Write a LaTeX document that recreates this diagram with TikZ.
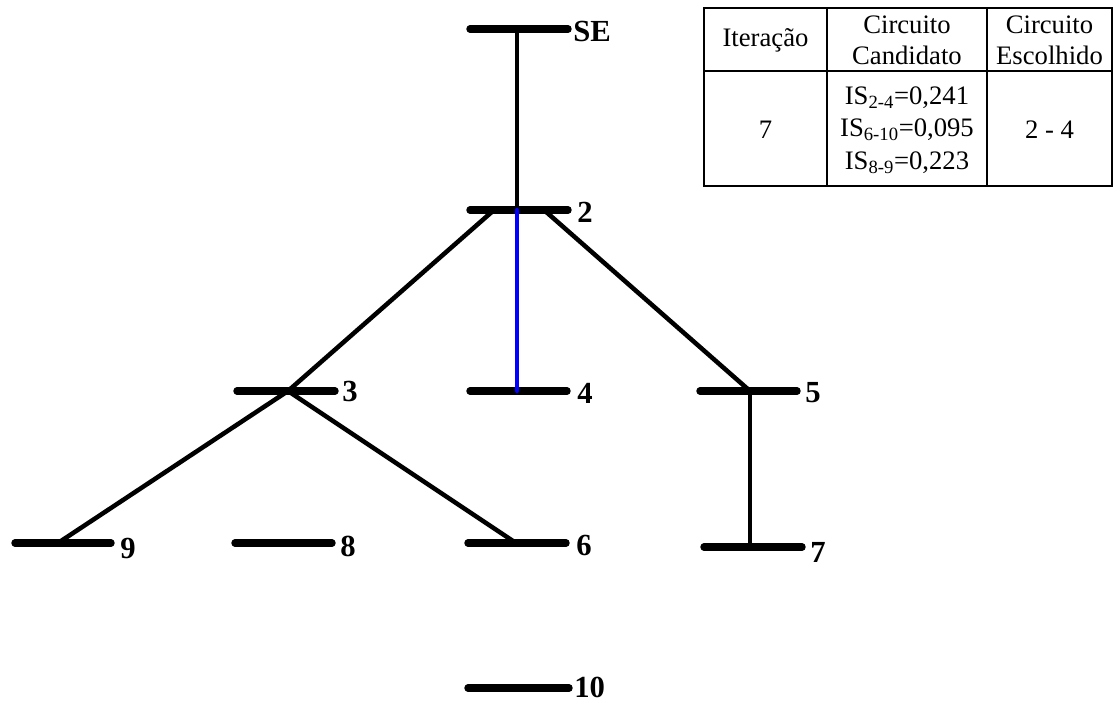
\documentclass[tikz,border=0pt]{standalone}
\usepackage{fontspec}
\setmainfont{Liberation Serif}
\begin{document}
\begin{tikzpicture}[x=0.75pt,y=-0.75pt,
  bus/.style={line width=5.6pt,line cap=round},
  link/.style={line width=3.4pt},
  blink/.style={line width=3.2pt,blue,line cap=round},
  lbl/.style={anchor=west,inner sep=0pt,font=\bfseries\fontsize{23}{24}\selectfont},
  cell/.style={align=center,inner sep=0pt,font=\fontsize{20}{23}\selectfont}]
\useasboundingbox (0,0) rectangle (1115,704);
% bus coordinates
\coordinate (SEl) at (470,29);  \coordinate (SEr) at (568,29);  \coordinate (SEt) at (517,29);
\coordinate (B2l) at (470,210); \coordinate (B2r) at (568,210); \coordinate (B2t) at (517,210);
\coordinate (B2a) at (494,210); \coordinate (B2b) at (544,210);
\coordinate (B3l) at (237,391); \coordinate (B3r) at (335,391); \coordinate (B3t) at (288,391);
\coordinate (B4l) at (470,391); \coordinate (B4r) at (567,391); \coordinate (B4t) at (517,391);
\coordinate (B5l) at (700,391); \coordinate (B5r) at (797,391); \coordinate (B5t) at (750,391);
\coordinate (B9l) at (15,543);  \coordinate (B9r) at (111,543); \coordinate (B9t) at (58,543);
\coordinate (B8l) at (235,543); \coordinate (B8r) at (332,543);
\coordinate (B6l) at (468,543); \coordinate (B6r) at (566,543); \coordinate (B6t) at (516,543);
\coordinate (B7l) at (704,547); \coordinate (B7r) at (802,547); \coordinate (B7t) at (750,547);
\coordinate (B10l) at (468,688); \coordinate (B10r) at (569,688);
% connectors
\draw[link] (SEt) -- (B2t);
\draw[link] (B2a) -- (B3t);
\draw[link] (B2b) -- (B5t);
\draw[link] (B3t) -- (B9t);
\draw[link] (B3t) -- (B6t);
\draw[link] (B5t) -- (B7t);
% buses
\draw[bus] (SEl) -- (SEr);
\draw[bus] (B2l) -- (B2r);
\draw[bus] (B3l) -- (B3r);
\draw[bus] (B4l) -- (B4r);
\draw[bus] (B5l) -- (B5r);
\draw[bus] (B9l) -- (B9r);
\draw[bus] (B8l) -- (B8r);
\draw[bus] (B6l) -- (B6r);
\draw[bus] (B7l) -- (B7r);
\draw[bus] (B10l) -- (B10r);
\draw[blink] (B2t) -- (B4t);
% labels
\node[lbl] (lSE) at (573,31) {SE};
\node[lbl] (l2) at (577,212) {2};
\node[lbl] (l3) at (342,391) {3};
\node[lbl] (l4) at (577,393) {4};
\node[lbl] (l5) at (805,393) {5};
\node[lbl] (l9) at (120,548) {9};
\node[lbl] (l8) at (340,546) {8};
\node[lbl] (l6) at (576,545) {6};
\node[lbl] (l7) at (810,552) {7};
\node[lbl] (l10) at (574,687) {10};
% table
\coordinate (T1) at (704,8); \coordinate (T2) at (1112,186);
\draw[line width=1.5pt] (T1) rectangle (T2);
\coordinate (Ra) at (704,71); \coordinate (Rb) at (1112,71);
\draw[line width=1.5pt] (Ra) -- (Rb);
\coordinate (C1a) at (827,8); \coordinate (C1b) at (827,186);
\coordinate (C2a) at (987,8); \coordinate (C2b) at (987,186);
\draw[line width=1.5pt] (C1a) -- (C1b);
\draw[line width=1.5pt] (C2a) -- (C2b);
\node[cell] (h1) at (765.5,40) {Iteração};
\node[cell] (h2) at (907,40) {Circuito\\Candidato};
\node[cell] (h3) at (1049.5,40) {Circuito\\Escolhido};
\node[cell] (v1) at (765.5,130) {7};
\node[cell,font=\fontsize{20}{24.5}\selectfont] (v2) at (907,130) {IS\textsubscript{2-4}=0,241\\IS\textsubscript{6-10}=0,095\\IS\textsubscript{8-9}=0,223};
\node[cell] (v3) at (1049.5,130) {2 - 4};
\end{tikzpicture}
\end{document}
